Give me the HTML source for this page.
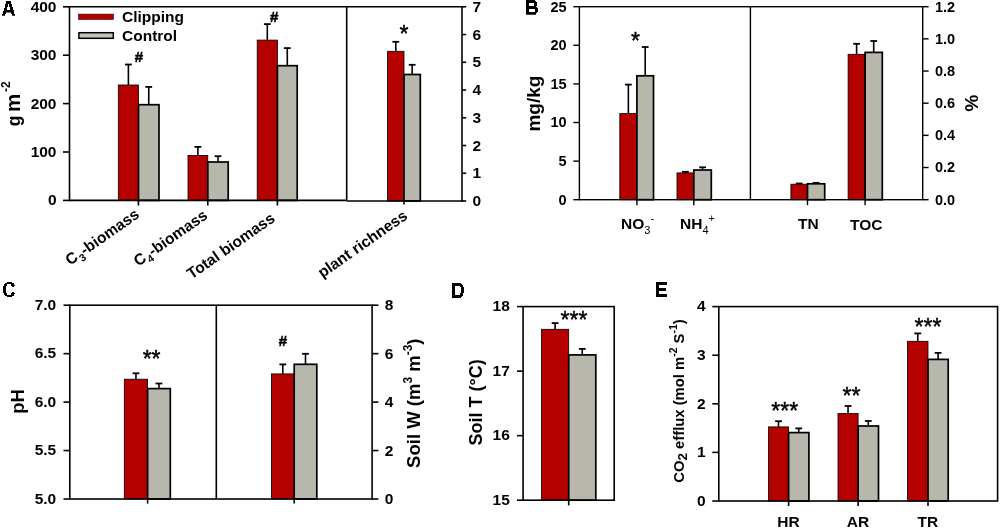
<!DOCTYPE html>
<html><head><meta charset="utf-8"><style>
html,body{margin:0;padding:0;background:#fff;width:1000px;height:529px;overflow:hidden}
svg{display:block;will-change:transform}
text{font-family:"Liberation Sans", sans-serif;fill:#000}
</style></head><body>
<svg width="1000" height="529" viewBox="0 0 1000 529">
<rect width="1000" height="529" fill="#fff"/>
<line x1="128.40" y1="85.00" x2="128.40" y2="64.50" stroke="#000" stroke-width="1.6"/>
<line x1="125.00" y1="64.50" x2="131.80" y2="64.50" stroke="#000" stroke-width="1.8"/>
<rect x="118.30" y="85.00" width="20.20" height="115.40" fill="#b50000" stroke="#000" stroke-width="0.8"/>
<line x1="148.75" y1="104.70" x2="148.75" y2="86.90" stroke="#000" stroke-width="1.6"/>
<line x1="145.35" y1="86.90" x2="152.15" y2="86.90" stroke="#000" stroke-width="1.8"/>
<rect x="138.50" y="104.70" width="20.50" height="95.70" fill="#b7b7ab" stroke="#000" stroke-width="1.7"/>
<line x1="197.90" y1="155.40" x2="197.90" y2="146.90" stroke="#000" stroke-width="1.6"/>
<line x1="194.50" y1="146.90" x2="201.30" y2="146.90" stroke="#000" stroke-width="1.8"/>
<rect x="188.00" y="155.40" width="19.80" height="45.00" fill="#b50000" stroke="#000" stroke-width="0.8"/>
<line x1="218.00" y1="162.00" x2="218.00" y2="156.20" stroke="#000" stroke-width="1.6"/>
<line x1="214.60" y1="156.20" x2="221.40" y2="156.20" stroke="#000" stroke-width="1.8"/>
<rect x="207.80" y="162.00" width="20.40" height="38.40" fill="#b7b7ab" stroke="#000" stroke-width="1.7"/>
<line x1="267.30" y1="40.10" x2="267.30" y2="24.10" stroke="#000" stroke-width="1.6"/>
<line x1="263.90" y1="24.10" x2="270.70" y2="24.10" stroke="#000" stroke-width="1.8"/>
<rect x="257.20" y="40.10" width="20.20" height="160.30" fill="#b50000" stroke="#000" stroke-width="0.8"/>
<line x1="287.30" y1="65.70" x2="287.30" y2="48.10" stroke="#000" stroke-width="1.6"/>
<line x1="283.90" y1="48.10" x2="290.70" y2="48.10" stroke="#000" stroke-width="1.8"/>
<rect x="277.40" y="65.70" width="19.80" height="134.70" fill="#b7b7ab" stroke="#000" stroke-width="1.7"/>
<line x1="395.80" y1="51.30" x2="395.80" y2="41.80" stroke="#000" stroke-width="1.6"/>
<line x1="392.40" y1="41.80" x2="399.20" y2="41.80" stroke="#000" stroke-width="1.8"/>
<rect x="387.60" y="51.30" width="16.40" height="149.70" fill="#b50000" stroke="#000" stroke-width="0.8"/>
<line x1="412.15" y1="74.50" x2="412.15" y2="64.80" stroke="#000" stroke-width="1.6"/>
<line x1="408.75" y1="64.80" x2="415.55" y2="64.80" stroke="#000" stroke-width="1.8"/>
<rect x="404.00" y="74.50" width="16.30" height="126.50" fill="#b7b7ab" stroke="#000" stroke-width="1.7"/>
<line x1="68.70" y1="6.80" x2="462.80" y2="6.80" stroke="#000" stroke-width="1.6"/>
<line x1="69.50" y1="6.80" x2="69.50" y2="201.20" stroke="#000" stroke-width="1.6"/>
<line x1="69.50" y1="200.40" x2="346.70" y2="200.40" stroke="#000" stroke-width="1.6"/>
<line x1="346.70" y1="201.00" x2="462.80" y2="201.00" stroke="#000" stroke-width="1.6"/>
<line x1="462.00" y1="6.80" x2="462.00" y2="201.80" stroke="#000" stroke-width="1.6"/>
<line x1="346.70" y1="6.80" x2="346.70" y2="200.40" stroke="#000" stroke-width="1.6"/>
<line x1="63.00" y1="200.40" x2="69.50" y2="200.40" stroke="#000" stroke-width="1.6"/>
<text x="56.50" y="205.40" font-size="15.5" text-anchor="end" font-weight="bold">0</text>
<line x1="63.00" y1="152.00" x2="69.50" y2="152.00" stroke="#000" stroke-width="1.6"/>
<text x="56.50" y="157.00" font-size="15.5" text-anchor="end" font-weight="bold">100</text>
<line x1="63.00" y1="103.60" x2="69.50" y2="103.60" stroke="#000" stroke-width="1.6"/>
<text x="56.50" y="108.60" font-size="15.5" text-anchor="end" font-weight="bold">200</text>
<line x1="63.00" y1="55.20" x2="69.50" y2="55.20" stroke="#000" stroke-width="1.6"/>
<text x="56.50" y="60.20" font-size="15.5" text-anchor="end" font-weight="bold">300</text>
<line x1="63.00" y1="6.80" x2="69.50" y2="6.80" stroke="#000" stroke-width="1.6"/>
<text x="56.50" y="11.80" font-size="15.5" text-anchor="end" font-weight="bold">400</text>
<line x1="462.00" y1="201.00" x2="466.20" y2="201.00" stroke="#000" stroke-width="1.6"/>
<text x="472.50" y="206.00" font-size="15.5" text-anchor="start" font-weight="bold">0</text>
<line x1="462.00" y1="173.26" x2="466.20" y2="173.26" stroke="#000" stroke-width="1.6"/>
<text x="472.50" y="178.26" font-size="15.5" text-anchor="start" font-weight="bold">1</text>
<line x1="462.00" y1="145.51" x2="466.20" y2="145.51" stroke="#000" stroke-width="1.6"/>
<text x="472.50" y="150.51" font-size="15.5" text-anchor="start" font-weight="bold">2</text>
<line x1="462.00" y1="117.77" x2="466.20" y2="117.77" stroke="#000" stroke-width="1.6"/>
<text x="472.50" y="122.77" font-size="15.5" text-anchor="start" font-weight="bold">3</text>
<line x1="462.00" y1="90.03" x2="466.20" y2="90.03" stroke="#000" stroke-width="1.6"/>
<text x="472.50" y="95.03" font-size="15.5" text-anchor="start" font-weight="bold">4</text>
<line x1="462.00" y1="62.29" x2="466.20" y2="62.29" stroke="#000" stroke-width="1.6"/>
<text x="472.50" y="67.29" font-size="15.5" text-anchor="start" font-weight="bold">5</text>
<line x1="462.00" y1="34.54" x2="466.20" y2="34.54" stroke="#000" stroke-width="1.6"/>
<text x="472.50" y="39.54" font-size="15.5" text-anchor="start" font-weight="bold">6</text>
<line x1="462.00" y1="6.80" x2="466.20" y2="6.80" stroke="#000" stroke-width="1.6"/>
<text x="472.50" y="11.80" font-size="15.5" text-anchor="start" font-weight="bold">7</text>
<line x1="138.40" y1="200.40" x2="138.40" y2="205.50" stroke="#000" stroke-width="1.6"/>
<line x1="207.80" y1="200.40" x2="207.80" y2="205.50" stroke="#000" stroke-width="1.6"/>
<line x1="277.40" y1="200.40" x2="277.40" y2="205.50" stroke="#000" stroke-width="1.6"/>
<line x1="404.00" y1="201.00" x2="404.00" y2="204.60" stroke="#000" stroke-width="1.6"/>
<text x="138.80" y="62.20" font-size="15" text-anchor="middle" font-weight="bold" stroke="#000" stroke-width="0.5">#</text>
<text x="274.10" y="21.80" font-size="15" text-anchor="middle" font-weight="bold" stroke="#000" stroke-width="0.5">#</text>
<text x="404.00" y="42.00" font-size="23" text-anchor="middle" font-weight="normal" stroke="#000" stroke-width="0.45" stroke-linejoin="round">*</text>
<rect x="78.5" y="14.1" width="35" height="5.4" fill="#b50000" stroke="#300" stroke-width="0.6"/>
<rect x="78.9" y="32.7" width="34.4" height="5.6" fill="#c4c4b6" stroke="#000" stroke-width="1.5"/>
<text x="122.00" y="22.30" font-size="15.5" text-anchor="start" font-weight="bold">Clipping</text>
<text x="122.00" y="40.50" font-size="15.5" text-anchor="start" font-weight="bold">Control</text>
<text transform="translate(19.6 126.2) rotate(-90)" font-size="20.5" font-weight="bold"><tspan font-size="17.5">g</tspan><tspan dx="-2.1"> m</tspan><tspan font-size="12" dx="1.75" dy="-9.5">-2</tspan></text>
<text transform="translate(140.4 216.6) rotate(-35)" font-size="15.5" font-weight="bold" text-anchor="end">C<tspan font-size="10.5" dx="0.8" dy="4">3</tspan><tspan dy="-4">-biomass</tspan></text>
<text transform="translate(208.6 217.6) rotate(-35)" font-size="15.5" font-weight="bold" text-anchor="end">C<tspan font-size="10.5" dx="0.8" dy="4">4</tspan><tspan dy="-4">-biomass</tspan></text>
<text transform="translate(276 220.5) rotate(-35)" font-size="15.5" font-weight="bold" text-anchor="end">Total biomass</text>
<text transform="translate(408.5 218) rotate(-35)" font-size="15.5" font-weight="bold" text-anchor="end">plant richness</text>
<path d="M6 1H11V4H6ZM5 4H8V7H5ZM9 4H12V7H9ZM5 7H7V8H5ZM10 7H13V8H10ZM4 8H7V10H4ZM10 8H13V10H10ZM4 10H14V11H4ZM3 11H14V12.6H3ZM3 12.6H6V14H3ZM11 12.6H14V14H11ZM2 14H5V15.8H2ZM12 14H15V15.8H12Z" fill="#000"/>
<line x1="628.35" y1="113.60" x2="628.35" y2="84.60" stroke="#000" stroke-width="1.6"/>
<line x1="624.95" y1="84.60" x2="631.75" y2="84.60" stroke="#000" stroke-width="1.8"/>
<rect x="619.80" y="113.60" width="17.10" height="86.10" fill="#b50000" stroke="#000" stroke-width="0.8"/>
<line x1="645.20" y1="75.80" x2="645.20" y2="47.00" stroke="#000" stroke-width="1.6"/>
<line x1="641.80" y1="47.00" x2="648.60" y2="47.00" stroke="#000" stroke-width="1.8"/>
<rect x="636.90" y="75.80" width="16.60" height="123.90" fill="#b7b7ab" stroke="#000" stroke-width="1.7"/>
<line x1="685.40" y1="172.90" x2="685.40" y2="171.80" stroke="#000" stroke-width="1.6"/>
<line x1="682.00" y1="171.80" x2="688.80" y2="171.80" stroke="#000" stroke-width="1.8"/>
<rect x="677.00" y="172.90" width="16.80" height="26.80" fill="#b50000" stroke="#000" stroke-width="0.8"/>
<line x1="702.55" y1="170.00" x2="702.55" y2="167.30" stroke="#000" stroke-width="1.6"/>
<line x1="699.15" y1="167.30" x2="705.95" y2="167.30" stroke="#000" stroke-width="1.8"/>
<rect x="693.80" y="170.00" width="17.50" height="29.70" fill="#b7b7ab" stroke="#000" stroke-width="1.7"/>
<line x1="799.20" y1="184.20" x2="799.20" y2="183.50" stroke="#000" stroke-width="1.6"/>
<line x1="795.80" y1="183.50" x2="802.60" y2="183.50" stroke="#000" stroke-width="1.8"/>
<rect x="790.90" y="184.20" width="16.60" height="15.50" fill="#b50000" stroke="#000" stroke-width="0.8"/>
<line x1="816.10" y1="183.80" x2="816.10" y2="182.90" stroke="#000" stroke-width="1.6"/>
<line x1="812.70" y1="182.90" x2="819.50" y2="182.90" stroke="#000" stroke-width="1.8"/>
<rect x="807.50" y="183.80" width="17.20" height="15.90" fill="#b7b7ab" stroke="#000" stroke-width="1.7"/>
<line x1="856.60" y1="54.30" x2="856.60" y2="43.80" stroke="#000" stroke-width="1.6"/>
<line x1="853.20" y1="43.80" x2="860.00" y2="43.80" stroke="#000" stroke-width="1.8"/>
<rect x="848.10" y="54.30" width="17.00" height="145.40" fill="#b50000" stroke="#000" stroke-width="0.8"/>
<line x1="873.70" y1="52.40" x2="873.70" y2="41.00" stroke="#000" stroke-width="1.6"/>
<line x1="870.30" y1="41.00" x2="877.10" y2="41.00" stroke="#000" stroke-width="1.8"/>
<rect x="865.10" y="52.40" width="17.20" height="147.30" fill="#b7b7ab" stroke="#000" stroke-width="1.7"/>
<rect x="579.40" y="6.70" width="343.30" height="193.00" fill="none" stroke="#000" stroke-width="1.4"/>
<line x1="750.40" y1="6.70" x2="750.40" y2="199.70" stroke="#000" stroke-width="1.4"/>
<line x1="573.30" y1="199.70" x2="579.40" y2="199.70" stroke="#000" stroke-width="1.4"/>
<text x="566.60" y="204.50" font-size="14.5" text-anchor="end" font-weight="bold">0</text>
<line x1="573.30" y1="161.10" x2="579.40" y2="161.10" stroke="#000" stroke-width="1.4"/>
<text x="566.60" y="165.90" font-size="14.5" text-anchor="end" font-weight="bold">5</text>
<line x1="573.30" y1="122.50" x2="579.40" y2="122.50" stroke="#000" stroke-width="1.4"/>
<text x="566.60" y="127.30" font-size="14.5" text-anchor="end" font-weight="bold">10</text>
<line x1="573.30" y1="83.90" x2="579.40" y2="83.90" stroke="#000" stroke-width="1.4"/>
<text x="566.60" y="88.70" font-size="14.5" text-anchor="end" font-weight="bold">15</text>
<line x1="573.30" y1="45.30" x2="579.40" y2="45.30" stroke="#000" stroke-width="1.4"/>
<text x="566.60" y="50.10" font-size="14.5" text-anchor="end" font-weight="bold">20</text>
<line x1="573.30" y1="6.70" x2="579.40" y2="6.70" stroke="#000" stroke-width="1.4"/>
<text x="566.60" y="11.50" font-size="14.5" text-anchor="end" font-weight="bold">25</text>
<line x1="922.70" y1="199.70" x2="928.60" y2="199.70" stroke="#000" stroke-width="1.4"/>
<text x="935.00" y="204.50" font-size="14.5" text-anchor="start" font-weight="bold">0.0</text>
<line x1="922.70" y1="167.53" x2="928.60" y2="167.53" stroke="#000" stroke-width="1.4"/>
<text x="935.00" y="172.33" font-size="14.5" text-anchor="start" font-weight="bold">0.2</text>
<line x1="922.70" y1="135.37" x2="928.60" y2="135.37" stroke="#000" stroke-width="1.4"/>
<text x="935.00" y="140.17" font-size="14.5" text-anchor="start" font-weight="bold">0.4</text>
<line x1="922.70" y1="103.20" x2="928.60" y2="103.20" stroke="#000" stroke-width="1.4"/>
<text x="935.00" y="108.00" font-size="14.5" text-anchor="start" font-weight="bold">0.6</text>
<line x1="922.70" y1="71.03" x2="928.60" y2="71.03" stroke="#000" stroke-width="1.4"/>
<text x="935.00" y="75.83" font-size="14.5" text-anchor="start" font-weight="bold">0.8</text>
<line x1="922.70" y1="38.87" x2="928.60" y2="38.87" stroke="#000" stroke-width="1.4"/>
<text x="935.00" y="43.67" font-size="14.5" text-anchor="start" font-weight="bold">1.0</text>
<line x1="922.70" y1="6.70" x2="928.60" y2="6.70" stroke="#000" stroke-width="1.4"/>
<text x="935.00" y="11.50" font-size="14.5" text-anchor="start" font-weight="bold">1.2</text>
<line x1="636.90" y1="199.70" x2="636.90" y2="205.20" stroke="#000" stroke-width="1.4"/>
<line x1="693.80" y1="199.70" x2="693.80" y2="205.20" stroke="#000" stroke-width="1.4"/>
<line x1="807.50" y1="199.70" x2="807.50" y2="205.20" stroke="#000" stroke-width="1.4"/>
<line x1="865.10" y1="199.70" x2="865.10" y2="205.20" stroke="#000" stroke-width="1.4"/>
<text x="635.50" y="49.20" font-size="23" text-anchor="middle" font-weight="normal" stroke="#000" stroke-width="0.45" stroke-linejoin="round">*</text>
<text x="621" y="229.4" font-size="15.5" font-weight="bold">NO<tspan font-size="11" font-weight="normal" dy="4.5">3</tspan><tspan font-size="11" font-weight="normal" dy="-12">-</tspan></text>
<text x="680" y="229.4" font-size="15.5" font-weight="bold">NH<tspan font-size="11" font-weight="normal" dy="4.5">4</tspan><tspan font-size="11" font-weight="normal" dy="-12">+</tspan></text>
<text x="808.40" y="229.40" font-size="15.5" text-anchor="middle" font-weight="bold">TN</text>
<text x="866.30" y="230.40" font-size="15.5" text-anchor="middle" font-weight="bold">TOC</text>
<path d="M526 0H535V1H526ZM526 1H536V2H526ZM526 2H537V3H526ZM526 3H529V6H526ZM534 3H537V6H534ZM526 6H536V7H526ZM526 7H537V8H526ZM526 8H538V9H526ZM526 9H529V12H526ZM535 9H538V12H535ZM526 12H537V13H526ZM526 13H536V14.8H526Z" fill="#000"/>
<text transform="translate(539.5 103.6) rotate(-90)" font-size="19" font-weight="bold" text-anchor="middle">mg/kg</text>
<text transform="translate(965 103.2) rotate(90)" font-size="19" font-weight="bold" text-anchor="middle">%</text>
<line x1="135.95" y1="379.20" x2="135.95" y2="373.30" stroke="#000" stroke-width="1.6"/>
<line x1="132.55" y1="373.30" x2="139.35" y2="373.30" stroke="#000" stroke-width="1.8"/>
<rect x="124.30" y="379.20" width="23.30" height="119.80" fill="#b50000" stroke="#000" stroke-width="0.8"/>
<line x1="158.95" y1="388.60" x2="158.95" y2="383.50" stroke="#000" stroke-width="1.6"/>
<line x1="155.55" y1="383.50" x2="162.35" y2="383.50" stroke="#000" stroke-width="1.8"/>
<rect x="147.60" y="388.60" width="22.70" height="110.40" fill="#b7b7ab" stroke="#000" stroke-width="1.7"/>
<line x1="282.80" y1="373.90" x2="282.80" y2="364.40" stroke="#000" stroke-width="1.6"/>
<line x1="279.40" y1="364.40" x2="286.20" y2="364.40" stroke="#000" stroke-width="1.8"/>
<rect x="271.40" y="373.90" width="22.80" height="125.10" fill="#b50000" stroke="#000" stroke-width="0.8"/>
<line x1="305.50" y1="364.30" x2="305.50" y2="353.80" stroke="#000" stroke-width="1.6"/>
<line x1="302.10" y1="353.80" x2="308.90" y2="353.80" stroke="#000" stroke-width="1.8"/>
<rect x="294.20" y="364.30" width="22.60" height="134.70" fill="#b7b7ab" stroke="#000" stroke-width="1.7"/>
<rect x="69.80" y="305.20" width="302.30" height="193.80" fill="none" stroke="#000" stroke-width="1.6"/>
<line x1="216.30" y1="305.20" x2="216.30" y2="499.00" stroke="#000" stroke-width="1.6"/>
<line x1="63.50" y1="499.00" x2="69.80" y2="499.00" stroke="#000" stroke-width="1.6"/>
<text x="56.20" y="503.80" font-size="15.5" text-anchor="end" font-weight="bold">5.0</text>
<line x1="63.50" y1="450.55" x2="69.80" y2="450.55" stroke="#000" stroke-width="1.6"/>
<text x="56.20" y="455.35" font-size="15.5" text-anchor="end" font-weight="bold">5.5</text>
<line x1="63.50" y1="402.10" x2="69.80" y2="402.10" stroke="#000" stroke-width="1.6"/>
<text x="56.20" y="406.90" font-size="15.5" text-anchor="end" font-weight="bold">6.0</text>
<line x1="63.50" y1="353.65" x2="69.80" y2="353.65" stroke="#000" stroke-width="1.6"/>
<text x="56.20" y="358.45" font-size="15.5" text-anchor="end" font-weight="bold">6.5</text>
<line x1="63.50" y1="305.20" x2="69.80" y2="305.20" stroke="#000" stroke-width="1.6"/>
<text x="56.20" y="310.00" font-size="15.5" text-anchor="end" font-weight="bold">7.0</text>
<line x1="372.10" y1="499.00" x2="378.40" y2="499.00" stroke="#000" stroke-width="1.6"/>
<text x="384.80" y="504.00" font-size="15.5" text-anchor="start" font-weight="bold">0</text>
<line x1="372.10" y1="450.55" x2="378.40" y2="450.55" stroke="#000" stroke-width="1.6"/>
<text x="384.80" y="455.55" font-size="15.5" text-anchor="start" font-weight="bold">2</text>
<line x1="372.10" y1="402.10" x2="378.40" y2="402.10" stroke="#000" stroke-width="1.6"/>
<text x="384.80" y="407.10" font-size="15.5" text-anchor="start" font-weight="bold">4</text>
<line x1="372.10" y1="353.65" x2="378.40" y2="353.65" stroke="#000" stroke-width="1.6"/>
<text x="384.80" y="358.65" font-size="15.5" text-anchor="start" font-weight="bold">6</text>
<line x1="372.10" y1="305.20" x2="378.40" y2="305.20" stroke="#000" stroke-width="1.6"/>
<text x="384.80" y="310.20" font-size="15.5" text-anchor="start" font-weight="bold">8</text>
<line x1="147.60" y1="499.00" x2="147.60" y2="503.60" stroke="#000" stroke-width="1.6"/>
<line x1="294.20" y1="499.00" x2="294.20" y2="503.60" stroke="#000" stroke-width="1.6"/>
<text x="151.60" y="367.10" font-size="23" text-anchor="middle" font-weight="normal" stroke="#000" stroke-width="0.45" stroke-linejoin="round">**</text>
<text x="283.00" y="345.60" font-size="15" text-anchor="middle" font-weight="bold" stroke="#000" stroke-width="0.5">#</text>
<path d="M7 282H12V283H7ZM5 283H14V284H5ZM4 284H7V285H4ZM11 284H14V285H11ZM4 285H7V286H4ZM11 285H15V286H11ZM3 286H6V287H3ZM12 286H14V287H12ZM3 287H6V292H3ZM3 292H6V293H3ZM12 292H14V293H12ZM4 293H7V294H4ZM11 293H15V294H11ZM4 294H7V295H4ZM11 294H14V295H11ZM5 295H14V296H5ZM7 296H12V297H7Z" fill="#000"/>
<text transform="translate(24 401.5) rotate(-90)" font-size="18.5" font-weight="bold" text-anchor="middle">pH</text>
<text transform="translate(420.3 403.2) rotate(-90)" font-size="18.5" font-weight="bold" text-anchor="middle">Soil W (m<tspan font-size="12" dy="-8">3</tspan><tspan dy="8"> m</tspan><tspan font-size="12" dy="-8">-3</tspan><tspan dy="8">)</tspan></text>
<line x1="555.10" y1="329.30" x2="555.10" y2="323.10" stroke="#000" stroke-width="1.6"/>
<line x1="551.70" y1="323.10" x2="558.50" y2="323.10" stroke="#000" stroke-width="1.8"/>
<rect x="541.50" y="329.30" width="27.20" height="170.90" fill="#b50000" stroke="#000" stroke-width="0.8"/>
<line x1="582.25" y1="354.90" x2="582.25" y2="348.90" stroke="#000" stroke-width="1.6"/>
<line x1="578.85" y1="348.90" x2="585.65" y2="348.90" stroke="#000" stroke-width="1.8"/>
<rect x="568.70" y="354.90" width="27.10" height="145.30" fill="#b7b7ab" stroke="#000" stroke-width="1.7"/>
<rect x="523.10" y="306.60" width="91.10" height="193.60" fill="none" stroke="#000" stroke-width="1.6"/>
<line x1="517.00" y1="500.20" x2="523.10" y2="500.20" stroke="#000" stroke-width="1.6"/>
<text x="509.80" y="505.00" font-size="15.5" text-anchor="end" font-weight="bold">15</text>
<line x1="517.00" y1="435.67" x2="523.10" y2="435.67" stroke="#000" stroke-width="1.6"/>
<text x="509.80" y="440.47" font-size="15.5" text-anchor="end" font-weight="bold">16</text>
<line x1="517.00" y1="371.13" x2="523.10" y2="371.13" stroke="#000" stroke-width="1.6"/>
<text x="509.80" y="375.93" font-size="15.5" text-anchor="end" font-weight="bold">17</text>
<line x1="517.00" y1="306.60" x2="523.10" y2="306.60" stroke="#000" stroke-width="1.6"/>
<text x="509.80" y="311.40" font-size="15.5" text-anchor="end" font-weight="bold">18</text>
<line x1="568.70" y1="500.20" x2="568.70" y2="505.40" stroke="#000" stroke-width="1.6"/>
<text x="574.00" y="328.30" font-size="23" text-anchor="middle" font-weight="normal" stroke="#000" stroke-width="0.45" stroke-linejoin="round">***</text>
<path d="M452 283H461V284H452ZM452 284H462V285H452ZM452 285H463V286H452ZM452 286H455V287H452ZM460 286H463V287H460ZM452 287H455V293H452ZM461 287H464V293H461ZM452 293H455V295H452ZM460 293H463V295H460ZM452 295H463V296H452ZM452 296H462V297H452ZM452 297H461V298H452Z" fill="#000"/>
<text transform="translate(481.5 402.4) rotate(-90)" font-size="18" font-weight="bold" text-anchor="middle">Soil T (°C)</text>
<line x1="778.50" y1="426.90" x2="778.50" y2="421.20" stroke="#000" stroke-width="1.6"/>
<line x1="775.10" y1="421.20" x2="781.90" y2="421.20" stroke="#000" stroke-width="1.8"/>
<rect x="768.40" y="426.90" width="20.20" height="74.10" fill="#b50000" stroke="#000" stroke-width="0.8"/>
<line x1="798.75" y1="432.60" x2="798.75" y2="428.40" stroke="#000" stroke-width="1.6"/>
<line x1="795.35" y1="428.40" x2="802.15" y2="428.40" stroke="#000" stroke-width="1.8"/>
<rect x="788.60" y="432.60" width="20.30" height="68.40" fill="#b7b7ab" stroke="#000" stroke-width="1.7"/>
<line x1="848.05" y1="413.40" x2="848.05" y2="406.00" stroke="#000" stroke-width="1.6"/>
<line x1="844.65" y1="406.00" x2="851.45" y2="406.00" stroke="#000" stroke-width="1.8"/>
<rect x="838.00" y="413.40" width="20.10" height="87.60" fill="#b50000" stroke="#000" stroke-width="0.8"/>
<line x1="868.30" y1="426.00" x2="868.30" y2="421.00" stroke="#000" stroke-width="1.6"/>
<line x1="864.90" y1="421.00" x2="871.70" y2="421.00" stroke="#000" stroke-width="1.8"/>
<rect x="858.10" y="426.00" width="20.40" height="75.00" fill="#b7b7ab" stroke="#000" stroke-width="1.7"/>
<line x1="917.75" y1="341.30" x2="917.75" y2="333.40" stroke="#000" stroke-width="1.6"/>
<line x1="914.35" y1="333.40" x2="921.15" y2="333.40" stroke="#000" stroke-width="1.8"/>
<rect x="907.50" y="341.30" width="20.50" height="159.70" fill="#b50000" stroke="#000" stroke-width="0.8"/>
<line x1="938.10" y1="359.40" x2="938.10" y2="352.90" stroke="#000" stroke-width="1.6"/>
<line x1="934.70" y1="352.90" x2="941.50" y2="352.90" stroke="#000" stroke-width="1.8"/>
<rect x="928.00" y="359.40" width="20.20" height="141.60" fill="#b7b7ab" stroke="#000" stroke-width="1.7"/>
<rect x="718.80" y="306.60" width="278.80" height="194.40" fill="none" stroke="#000" stroke-width="1.6"/>
<line x1="712.30" y1="501.00" x2="718.80" y2="501.00" stroke="#000" stroke-width="1.6"/>
<text x="705.50" y="505.80" font-size="15.5" text-anchor="end" font-weight="bold">0</text>
<line x1="712.30" y1="452.40" x2="718.80" y2="452.40" stroke="#000" stroke-width="1.6"/>
<text x="705.50" y="457.20" font-size="15.5" text-anchor="end" font-weight="bold">1</text>
<line x1="712.30" y1="403.80" x2="718.80" y2="403.80" stroke="#000" stroke-width="1.6"/>
<text x="705.50" y="408.60" font-size="15.5" text-anchor="end" font-weight="bold">2</text>
<line x1="712.30" y1="355.20" x2="718.80" y2="355.20" stroke="#000" stroke-width="1.6"/>
<text x="705.50" y="360.00" font-size="15.5" text-anchor="end" font-weight="bold">3</text>
<line x1="712.30" y1="306.60" x2="718.80" y2="306.60" stroke="#000" stroke-width="1.6"/>
<text x="705.50" y="311.40" font-size="15.5" text-anchor="end" font-weight="bold">4</text>
<line x1="788.60" y1="501.00" x2="788.60" y2="506.00" stroke="#000" stroke-width="1.6"/>
<line x1="858.10" y1="501.00" x2="858.10" y2="506.00" stroke="#000" stroke-width="1.6"/>
<line x1="928.00" y1="501.00" x2="928.00" y2="506.00" stroke="#000" stroke-width="1.6"/>
<text x="784.80" y="419.00" font-size="23" text-anchor="middle" font-weight="normal" stroke="#000" stroke-width="0.45" stroke-linejoin="round">***</text>
<text x="851.50" y="404.10" font-size="23" text-anchor="middle" font-weight="normal" stroke="#000" stroke-width="0.45" stroke-linejoin="round">**</text>
<text x="928.00" y="335.40" font-size="23" text-anchor="middle" font-weight="normal" stroke="#000" stroke-width="0.45" stroke-linejoin="round">***</text>
<text x="788.50" y="526.70" font-size="15.5" text-anchor="middle" font-weight="bold">HR</text>
<text x="858.00" y="526.70" font-size="15.5" text-anchor="middle" font-weight="bold">AR</text>
<text x="927.80" y="526.70" font-size="15.5" text-anchor="middle" font-weight="bold">TR</text>
<path d="M656 282H667V285H656ZM656 285H659V288H656ZM656 288H666V291H656ZM656 291H659V294H656ZM656 294H667V297H656Z" fill="#000"/>
<text transform="translate(683.5 401) rotate(-90)" font-size="14.8" font-weight="bold" text-anchor="middle">CO<tspan font-size="13.5" dy="3.5">2</tspan><tspan dy="-3.5"> efflux (mol m</tspan><tspan font-size="10.5" dy="-6.5">-2</tspan><tspan dy="6.5"> S</tspan><tspan font-size="10.5" dy="-6.5">-1</tspan><tspan dy="6.5">)</tspan></text>
</svg>
</body></html>
